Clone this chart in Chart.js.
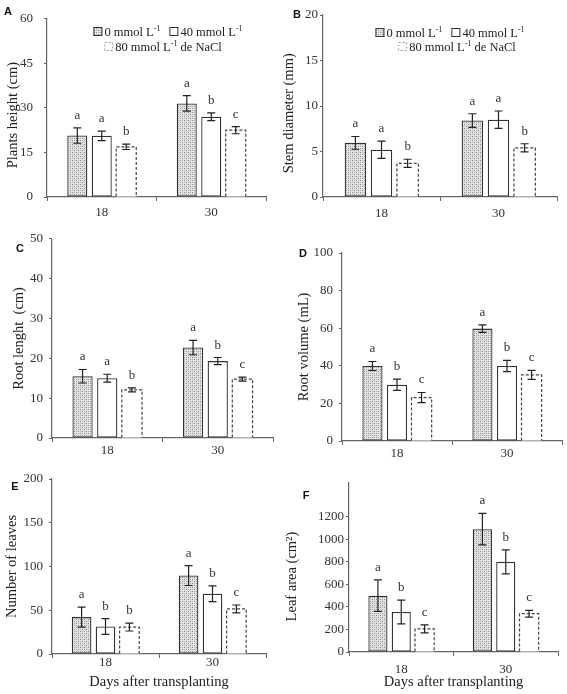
<!DOCTYPE html>
<html>
<head>
<meta charset="utf-8">
<script src="https://cdn.jsdelivr.net/npm/chart.js@4.4.1/dist/chart.umd.min.js"></script>
<style>
  html, body { margin: 0; padding: 0; background: #fff; }
  body { width: 567px; height: 694px; position: relative; overflow: hidden; }
  canvas { position: absolute; }
  .tag { position: absolute; font: bold 11px "Liberation Sans", Arial, sans-serif; color: #111; transform: translate(-50%, -50%); }
</style>
</head>
<body>
<script>
const days = ['18', '30'];
const doses = ['0', '40', '80'];

// A - plants height (cm)
const heightMean = [[20.7, 31.5], [20.6, 27.0], [16.9, 22.5]];
const heightErr = [[2.6, 2.6], [1.6, 1.3], [0.9, 1.2]];
const heightLetters = [['a', 'a'], ['a', 'b'], ['b', 'c']];
const heightTicks = [0, 15, 30, 45, 60];

// B - stem diameter (mm)
const stemMean = [[5.95, 8.4], [5.2, 8.5], [3.7, 5.4]];
const stemErr = [[0.7, 0.75], [0.95, 0.95], [0.45, 0.45]];
const stemLetters = [['a', 'a'], ['a', 'a'], ['b', 'b']];
const stemTicks = [0, 5, 10, 15, 20];

// C - root length (cm)
const rootLenMean = [[15.5, 22.7], [15.0, 19.3], [12.1, 14.8]];
const rootLenErr = [[1.7, 1.8], [1.0, 0.9], [0.5, 0.5]];
const rootLenLetters = [['a', 'a'], ['a', 'b'], ['b', 'c']];
const rootLenTicks = [0, 10, 20, 30, 40, 50];

// D - root volume (mL)
const rootVolMean = [[39.9, 59.8], [29.9, 39.9], [23.1, 35.2]];
const rootVolErr = [[2.4, 2.0], [3.0, 3.0], [2.7, 2.4]];
const rootVolLetters = [['a', 'a'], ['b', 'b'], ['c', 'c']];
const rootVolTicks = [0, 20, 40, 60, 80, 100];

// E - number of leaves
const leavesMean = [[42.2, 89.7], [31.5, 68.8], [30.8, 51.5]];
const leavesErr = [[11.4, 11.4], [9.0, 9.0], [4.5, 4.5]];
const leavesLetters = [['a', 'a'], ['b', 'b'], ['b', 'c']];
const leavesTicks = [0, 50, 100, 150, 200];

// F - leaf area (cm2)
const areaMean = [[500, 1090], [355, 800], [205, 340]];
const areaErr = [[140, 140], [106, 106], [35, 30]];
const areaLetters = [['a', 'a'], ['b', 'b'], ['c', 'c']];
const areaTicks = [0, 200, 400, 600, 800, 1000, 1200, 1400];

const SERIF = '"Liberation Serif", "Times New Roman", serif';

function dotPattern() {
  const c = document.createElement('canvas');
  c.width = c.height = 4;
  const g = c.getContext('2d');
  g.fillStyle = '#e2e2e2'; g.fillRect(0, 0, 4, 4);
  g.fillStyle = '#8c8c8c'; g.fillRect(0, 0, 1, 1); g.fillRect(2, 2, 1, 1);
  g.fillStyle = '#b4b4b4'; g.fillRect(2, 0, 1, 1); g.fillRect(0, 2, 1, 1);
  return g.createPattern(c, 'repeat');
}
const dots = dotPattern();

// dashed outline, error bars and letters on top of the bars
const barExtras = {
  id: 'barExtras',
  afterDatasetsDraw(chart) {
    const ctx = chart.ctx, ys = chart.scales.y;
    chart.data.datasets.forEach((ds, i) => {
      chart.getDatasetMeta(i).data.forEach((bar, j) => {
        const p = bar.getProps(['x', 'y', 'width', 'base'], true);
        const l = p.x - p.width / 2, r = p.x + p.width / 2;
        ctx.save();
        if (ds.dashed) {
          ctx.strokeStyle = '#444';
          ctx.lineWidth = 1.2;
          ctx.setLineDash([3, 2]);
          ctx.beginPath();
          ctx.moveTo(l, p.base); ctx.lineTo(l, p.y); ctx.lineTo(r, p.y); ctx.lineTo(r, p.base);
          ctx.stroke();
          ctx.setLineDash([]);
        }
        const hi = ys.getPixelForValue(ds.data[j] + ds.errors[j]);
        const lo = ys.getPixelForValue(ds.data[j] - ds.errors[j]);
        ctx.strokeStyle = '#222';
        ctx.lineWidth = 1.2;
        ctx.beginPath();
        ctx.moveTo(p.x, hi); ctx.lineTo(p.x, lo);
        ctx.moveTo(p.x - 4, hi); ctx.lineTo(p.x + 4, hi);
        ctx.moveTo(p.x - 4, lo); ctx.lineTo(p.x + 4, lo);
        ctx.stroke();
        ctx.fillStyle = '#333';
        ctx.font = '13px ' + SERIF;
        ctx.textAlign = 'center';
        ctx.textBaseline = 'alphabetic';
        ctx.fillText(ds.letters[j], p.x, hi - 9);
        ctx.restore();
      });
    });
  }
};

function drawSymbol(ctx, k, x, y) {
  ctx.save();
  if (k === 0) { ctx.fillStyle = dots; ctx.fillRect(x, y, 9, 9); }
  ctx.strokeStyle = k === 2 ? '#999' : '#333';
  ctx.lineWidth = 1;
  if (k === 2) ctx.setLineDash([2, 2]);
  ctx.strokeRect(x + 0.5, y + 0.5, 8, 8);
  ctx.restore();
}

function legendLine(ctx, parts, cx, y) {
  const big = '12.5px ' + SERIF, small = '8px ' + SERIF;
  let w = 0;
  parts.forEach(pt => {
    if (pt.sym !== undefined) w += 11;
    else if (pt.gap) w += pt.gap;
    else { ctx.font = pt.sup ? small : big; w += ctx.measureText(pt.t).width; }
  });
  let x = cx - w / 2;
  ctx.fillStyle = '#222';
  ctx.textBaseline = 'alphabetic';
  ctx.textAlign = 'left';
  parts.forEach(pt => {
    if (pt.sym !== undefined) { drawSymbol(ctx, pt.sym, x, y - 9); x += 11; }
    else if (pt.gap) x += pt.gap;
    else {
      ctx.font = pt.sup ? small : big;
      ctx.fillText(pt.t, x, pt.sup ? y - 5 : y);
      x += ctx.measureText(pt.t).width;
    }
  });
}

const legendPlugin = {
  id: 'doseLegend',
  afterDraw(chart) {
    const lg = chart.options.plugins.doseLegend;
    if (!lg || !lg.show) return;
    const ctx = chart.ctx;
    ctx.save();
    legendLine(ctx, [
      { sym: 0 }, { t: doses[0] + ' mmol L' }, { t: '-1', sup: true }, { gap: 9 },
      { sym: 1 }, { t: doses[1] + ' mmol L' }, { t: '-1', sup: true }
    ], lg.x1, lg.y1);
    legendLine(ctx, [
      { sym: 2 }, { t: doses[2] + ' mmol L' }, { t: '-1', sup: true }, { t: ' de NaCl' }
    ], lg.x2, lg.y2);
    ctx.restore();
  }
};

// titleShift: trailing spaces so the rotated y title sits a little lower, as in the original
const panels = [
  { tag: 'A', tagAt: [8, 11], box: [0, 0, 280, 225], area: [47, 10, 266, 197],
    mean: heightMean, err: heightErr, letters: heightLetters, ticks: heightTicks, top: 60,
    title: 'Plants height (cm)', titleShift: 4, titlePad: 4, yPad: 11, xPad: 4,
    legend: { x1: 168, y1: 36, x2: 163, y2: 51 } },
  { tag: 'B', tagAt: [297, 14], box: [280, 0, 287, 225], area: [323, 15, 557, 197],
    mean: stemMean, err: stemErr, letters: stemLetters, ticks: stemTicks, top: 20,
    title: 'Stem diameter (mm)', titleShift: 4, titlePad: 0, yPad: 2, xPad: 5,
    legend: { x1: 450, y1: 37, x2: 457, y2: 51 } },
  { tag: 'C', tagAt: [20, 248], box: [0, 225, 280, 240], area: [52, 237, 273, 438],
    mean: rootLenMean, err: rootLenErr, letters: rootLenLetters, ticks: rootLenTicks, top: 50,
    title: 'Root lenght  (cm)', titleShift: 0, titlePad: 10, yPad: 6, xPad: 1 },
  { tag: 'D', tagAt: [303, 253], box: [280, 225, 287, 240], area: [342, 253, 562, 441],
    mean: rootVolMean, err: rootVolErr, letters: rootVolLetters, ticks: rootVolTicks, top: 100,
    title: 'Root volume (mL)', titleShift: 0, titlePad: 15, yPad: 6, xPad: 1 },
  { tag: 'E', tagAt: [15, 486], box: [0, 455, 280, 239], area: [52, 479, 266, 654],
    mean: leavesMean, err: leavesErr, letters: leavesLetters, ticks: leavesTicks, top: 200,
    title: 'Number of leaves', titleShift: 0, titlePad: 3, yPad: 6, xPad: -3, xTitle: 'Days after transplanting' },
  { tag: 'F', tagAt: [306, 495], box: [280, 455, 287, 239], area: [349, 483, 558, 652],
    mean: areaMean, err: areaErr, letters: areaLetters, ticks: areaTicks, top: 1500,
    title: 'Leaf area (cm²)', titleShift: 5, titlePad: 3, yPad: 2, xPad: 6, xTitle: 'Days after transplanting' }
];

panels.forEach(pn => {
  const [bx, by, bw, bh] = pn.box;
  const [l, t, r, b] = pn.area;
  const cv = document.createElement('canvas');
  cv.width = bw; cv.height = bh;
  cv.style.left = bx + 'px'; cv.style.top = by + 'px';
  cv.style.width = bw + 'px'; cv.style.height = bh + 'px';
  document.body.appendChild(cv);

  const tag = document.createElement('div');
  tag.className = 'tag';
  tag.textContent = pn.tag;
  tag.style.left = pn.tagAt[0] + 'px';
  tag.style.top = pn.tagAt[1] + 'px';
  document.body.appendChild(tag);

  const styles = [
    { backgroundColor: dots, borderColor: '#333', borderWidth: 1.3 },
    { backgroundColor: '#fff', borderColor: '#333', borderWidth: 1.3 },
    { backgroundColor: '#fff', borderWidth: 0, dashed: true }
  ];
  const datasets = pn.mean.map((m, k) => Object.assign({
    label: doses[k] + ' mmol L-1',
    data: m,
    errors: pn.err[k],
    letters: pn.letters[k],
    barPercentage: 0.82,
    categoryPercentage: 0.67,
    borderSkipped: false
  }, styles[k]));

  const legendOpts = pn.legend
    ? { show: true, x1: pn.legend.x1 - bx, y1: pn.legend.y1 - by, x2: pn.legend.x2 - bx, y2: pn.legend.y2 - by }
    : { show: false };

  new Chart(cv, {
    type: 'bar',
    data: { labels: days, datasets: datasets },
    plugins: [barExtras, legendPlugin],
    options: {
      responsive: false,
      animation: false,
      devicePixelRatio: 1,
      layout: { padding: { left: 0, top: t - by, right: bx + bw - r, bottom: 0 } },
      plugins: {
        legend: { display: false },
        tooltip: { enabled: false },
        doseLegend: legendOpts
      },
      scales: {
        x: {
          offset: true,
          grid: { drawOnChartArea: false, drawTicks: true, tickLength: 4, color: '#666', offset: true },
          border: { display: true, color: '#666', width: 1.2 },
          ticks: { color: '#333', font: { family: SERIF, size: 13 }, padding: pn.xPad },
          title: pn.xTitle ? { display: true, text: pn.xTitle, color: '#222',
            font: { family: SERIF, size: 14.5 }, padding: { top: 0, bottom: 3 } } : { display: false },
          afterFit: s => { s.height = by + bh - b; }
        },
        y: {
          min: pn.ticks[0],
          max: pn.top,
          ticks: { stepSize: pn.ticks[1] - pn.ticks[0], color: '#333',
            font: { family: SERIF, size: 13 }, padding: pn.yPad, callback: v => String(v) },
          afterBuildTicks: s => { s.ticks = s.ticks.filter(tk => pn.ticks.includes(tk.value)); },
          grid: { drawOnChartArea: false, drawTicks: true, tickLength: 3, color: '#666' },
          border: { display: true, color: '#666', width: 1.2 },
          title: { display: true, text: pn.title + ' '.repeat(pn.titleShift), color: '#222',
            font: { family: SERIF, size: 14.5 }, padding: { top: pn.titlePad, bottom: 0 } },
          afterFit: s => { s.width = l - bx; }
        }
      }
    }
  });
});
</script>
</body>
</html>
